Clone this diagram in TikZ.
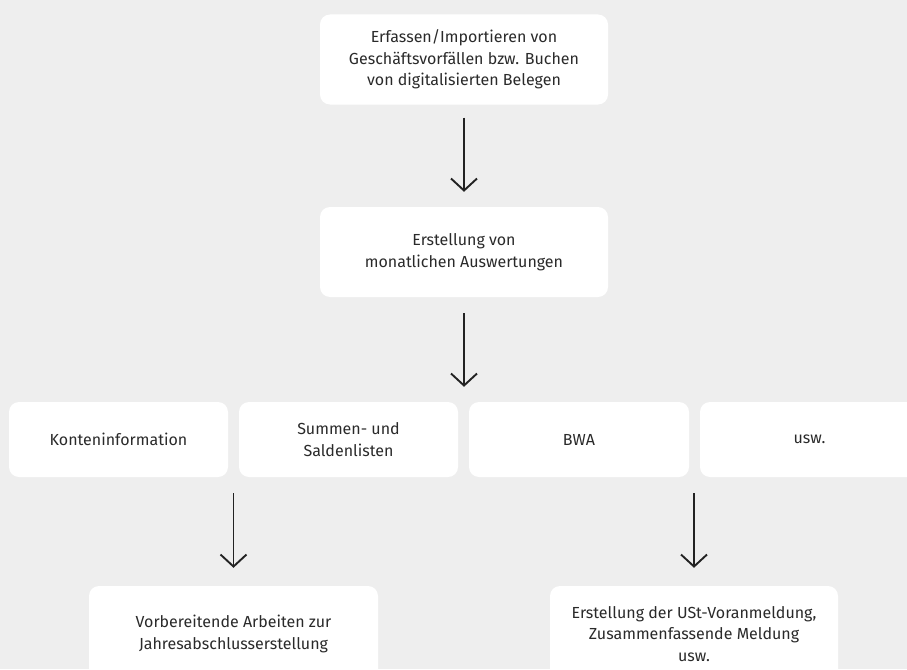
\documentclass[tikz,border=0pt]{standalone}
\usepackage{fontspec}
\setmainfont{Fira Sans}
\usetikzlibrary{arrows.meta}
\definecolor{bgc}{HTML}{EEEEEE}
\definecolor{txt}{HTML}{2A2A2A}
\definecolor{arc}{HTML}{222222}
\tikzset{
  box/.style={fill=white, rounded corners=10pt, draw=none, align=center,
    text=txt, font=\fontsize{16pt}{21.5pt}\selectfont, inner sep=0pt},
  big/.style={box, minimum width=288pt, minimum height=90pt},
  small/.style={box, minimum width=219pt, minimum height=75pt},
  arr/.style={draw=arc, line width=1.9pt,
    -{Straight Barb[length=12pt, width=26pt, line width=1.9pt]}}
}
\begin{document}
\begin{tikzpicture}[x=1pt,y=-1pt]
\fill[bgc] (0,0) rectangle (907,669);
\useasboundingbox (0,0) rectangle (907,669);
\begin{scope}
\clip (0,0) rectangle (907,669);
\node[big] (b1) at (464,59.5) {Erfassen/Importieren von\\Geschäftsvorfällen bzw. Buchen\\von digitalisierten Belegen};
\node[big] (b2) at (464,252) {Erstellung von\\monatlichen Auswertungen};
\node[small] (ka) at (118.5,439.5) {Konteninformation};
\node[small] (sa) at (348.5,439.5) {Summen- und\\Saldenlisten};
\node[small, minimum width=220pt] (bw) at (579,439.5) {BWA};
\node[small] (us) at (809.5,439.5) {usw.};
\node[big, minimum width=289pt, minimum height=96pt] (ja) at (233.5,634) {Vorbereitende Arbeiten zur\\Jahresabschlusserstellung};
\node[big, minimum height=96pt] (ust) at (694,634) {Erstellung der USt-Voranmeldung,\\Zusammenfassende Meldung\\usw.};
\draw[arr, shorten <=13pt, shorten >=15pt] (b1) -- (b2);
\coordinate (r1) at (b2.south |- ka.north);
\draw[arr, shorten <=16pt, shorten >=15pt] (b2.south) -- (r1);
\coordinate (r2) at (ja.north |- ka.south);
\draw[arr, shorten <=16pt, shorten >=18pt] (r2) -- (ja.north);
\coordinate (r3) at (ust.north |- bw.south);
\draw[arr, shorten <=16pt, shorten >=18pt] (r3) -- (ust.north);
\end{scope}
\end{tikzpicture}
\end{document}
